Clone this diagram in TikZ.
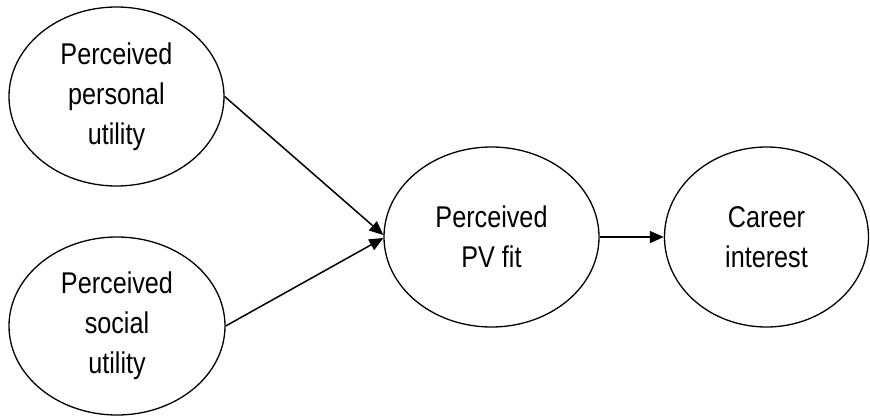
\documentclass[tikz,border=0pt]{standalone}
\usepackage{fontspec}
\setmainfont[FakeStretch=0.84]{Liberation Sans}
\usetikzlibrary{shapes.geometric,arrows.meta}
\begin{document}
\begin{tikzpicture}[x=1pt,y=-1pt,
  latent/.style={draw, ellipse, line width=1.3pt, inner sep=0pt, align=center,
    font=\fontsize{30}{40}\selectfont},
  conn/.style={line width=1.5pt, -{Triangle[length=14pt,width=12pt]}}]
\useasboundingbox (0,0) rectangle (870,415);
\node[latent, minimum width=215pt, minimum height=179pt] (pu) at (116.5,96.5) {Perceived\\personal\\utility};
\node[latent, minimum width=216pt, minimum height=178pt] (su) at (117,326) {Perceived\\social\\utility};
\node[latent, minimum width=215pt, minimum height=180pt] (fit) at (491.5,237) {Perceived\\PV fit};
\node[latent, minimum width=204pt, minimum height=180pt] (ci) at (766.5,237) {Career\\interest};
\draw[conn] (pu.east) -- ([yshift=2pt]fit.west);
\draw[conn] (su.east) -- ([yshift=-1pt]fit.west);
\draw[conn] (fit.east) -- (ci.west);
\end{tikzpicture}
\end{document}
